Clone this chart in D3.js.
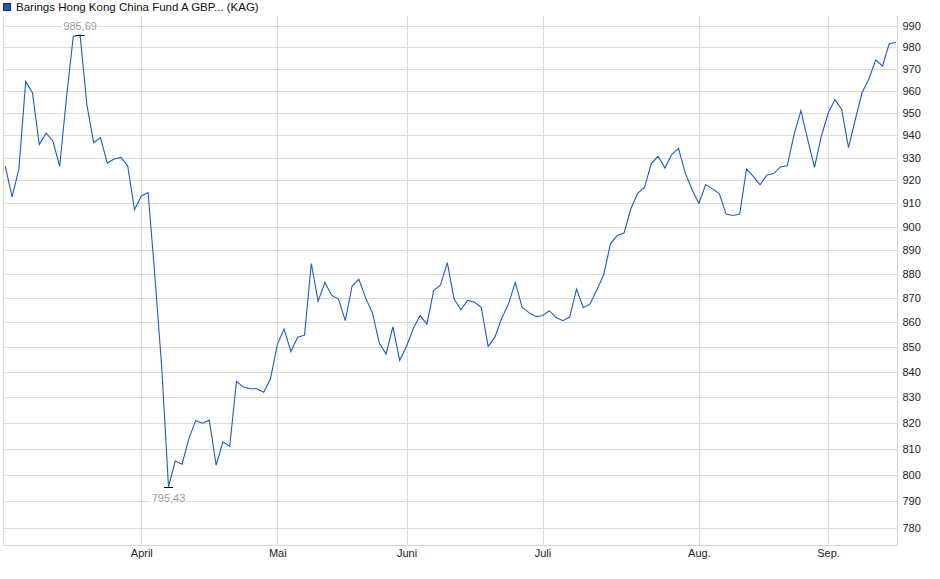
<!DOCTYPE html>
<html>
<head>
<meta charset="utf-8">
<script src="https://d3js.org/d3.v7.min.js"></script>
<style>
    body { margin: 0; background: #fff; }
    text { font-family: "Liberation Sans", Arial, sans-serif; }
</style>
</head>
<body>
<div id="chart"></div>
<script>
// chart data
var seriesName = "Barings Hong Kong China Fund A GBP... (KAG)";

var prices = [
    926.2, 912.8, 925, 964.3, 959, 935.8, 941, 937.3, 926.2, 957,
    985.2, 985.69, 953.6, 936.6, 938.9, 927.6, 929.4, 930.1, 926.4, 907.3,
    913.2, 914.7, 879, 842, 795.43, 805.2, 804, 813.9, 820.8, 819.8,
    821, 803.6, 812.6, 810.9, 836.3, 834, 833.3, 833.3, 831.9, 837.3,
    851, 857.3, 848.2, 854, 854.8, 884.4, 868.6, 876.5, 871.1, 869.6,
    860.7, 875, 877.8, 870, 863.8, 851.6, 847.2, 858.2, 844.6, 850.3,
    857.5, 862.8, 859.3, 873.1, 875.4, 884.8, 869.6, 865.2, 869, 868.3,
    866.2, 850.3, 854, 861.7, 867.6, 876.5, 866.2, 864, 862.4, 862.7,
    864.8, 862, 860.7, 862.2, 873.7, 866, 867.6, 873.4, 879.7, 892.8,
    896.3, 897.3, 907.8, 914.4, 917, 927.4, 930.6, 925.4, 931.4, 934.1,
    923.2, 915.9, 910, 918.2, 916.3, 914.3, 905.4, 904.8, 905.4, 925,
    921.8, 918.1, 922.4, 923, 925.9, 926.5, 940.3, 951, 938, 925.7,
    939.5, 949.7, 956, 951.5, 934.4, 947, 959.2, 965.4, 974.2, 971.4,
    981.8, 982.3
];

// month labels and the trading day index where each month starts
var monthLabels = ["April", "Mai", "Juni", "Juli", "Aug.", "Sep."];
var monthIndex = [20, 40, 59, 79, 102, 121];

// y axis ticks
var yTicks = d3.range(780, 1000, 10);

// svg size and plot frame
var svgWidth = 940;
var svgHeight = 579;
var frame = { left: 3.5, right: 897.5, top: 16, bottom: 545.5 };

var svg = d3.select("#chart").append("svg")
    .attr("width", svgWidth)
    .attr("height", svgHeight);

// scales (price axis is logarithmic)
var xScale = d3.scaleLinear()
    .domain([0, prices.length - 1])
    .range([5.3, 896.1]);

var yScale = d3.scaleLog()
    .domain([780, 990])
    .range([528, 26]);

var gridColor = "#dcdcdc";

// horizontal grid lines
svg.append("g").selectAll("line")
    .data(yTicks)
    .enter()
    .append("line")
    .attr("x1", frame.left)
    .attr("x2", frame.right)
    .attr("y1", d => Math.round(yScale(d)) + 0.5)
    .attr("y2", d => Math.round(yScale(d)) + 0.5)
    .attr("stroke", gridColor);

// vertical grid lines at month starts
svg.append("g").selectAll("line")
    .data(monthIndex)
    .enter()
    .append("line")
    .attr("x1", d => Math.round(xScale(d)) + 0.5)
    .attr("x2", d => Math.round(xScale(d)) + 0.5)
    .attr("y1", frame.top)
    .attr("y2", frame.bottom)
    .attr("stroke", gridColor);

// frame: left, right and bottom
svg.append("path")
    .attr("d", `M${frame.left},${frame.top}V${frame.bottom}H${frame.right}V${frame.top}`)
    .attr("fill", "none")
    .attr("stroke", "#d4d4d4");

// y axis labels on the right
var yAxis = d3.axisRight(yScale)
    .tickValues(yTicks)
    .tickFormat(d3.format("d"))
    .tickSize(0)
    .tickPadding(5);

var yAxisGroup = svg.append("g")
    .attr("transform", `translate(${frame.right}, 0)`)
    .call(yAxis);
yAxisGroup.select(".domain").remove();
yAxisGroup.selectAll("text")
    .attr("font-size", "11px")
    .attr("fill", "#222")
    .attr("font-family", "Liberation Sans, Arial, sans-serif");

// x axis month labels
var xAxis = d3.axisBottom(xScale)
    .tickValues(monthIndex)
    .tickFormat((d, i) => monthLabels[i])
    .tickSize(0)
    .tickPadding(4);

var xAxisGroup = svg.append("g")
    .attr("transform", `translate(0, ${frame.bottom})`)
    .call(xAxis);
xAxisGroup.select(".domain").remove();
xAxisGroup.selectAll("text")
    .attr("font-size", "11px")
    .attr("fill", "#222")
    .attr("font-family", "Liberation Sans, Arial, sans-serif");

// price line
var line = d3.line()
    .x((d, i) => xScale(i))
    .y(d => yScale(d));

svg.append("path")
    .datum(prices)
    .attr("d", line)
    .attr("fill", "none")
    .attr("stroke", "#1d5bc4")
    .attr("stroke-width", 1.1);

// high / low markers
var deFormat = d3.formatLocale({ decimal: ",", thousands: ".", grouping: [3], currency: ["", " €"] }).format(".2f");
var maxIdx = d3.maxIndex(prices);
var minIdx = d3.minIndex(prices);

function marker(idx, above) {
    var x = xScale(idx);
    var y = yScale(prices[idx]);
    var g = svg.append("g");
    var label = g.append("text")
        .attr("x", x)
        .attr("y", above ? y - 5 : y + 15)
        .attr("text-anchor", "middle")
        .attr("font-size", "11px")
        .attr("fill", "#a09a94")
        .text(deFormat(prices[idx]));
    var box = label.node().getBBox();
    g.insert("rect", "text")
        .attr("x", box.x - 1)
        .attr("y", box.y)
        .attr("width", box.width + 2)
        .attr("height", box.height)
        .attr("fill", "#fff");
    g.append("line")
        .attr("x1", x - 4.5)
        .attr("x2", x + 4.5)
        .attr("y1", Math.round(y) + 0.5)
        .attr("y2", Math.round(y) + 0.5)
        .attr("stroke", "#000");
}
marker(maxIdx, true);
marker(minIdx, false);

// legend
svg.append("rect")
    .attr("x", 3.5)
    .attr("y", 3.5)
    .attr("width", 7)
    .attr("height", 7)
    .attr("fill", "#1d5bc4")
    .attr("stroke", "#1a2a55");

svg.append("text")
    .attr("x", 16)
    .attr("y", 11)
    .attr("font-size", "11.5px")
    .attr("fill", "#111")
    .text(seriesName);
</script>
</body>
</html>
